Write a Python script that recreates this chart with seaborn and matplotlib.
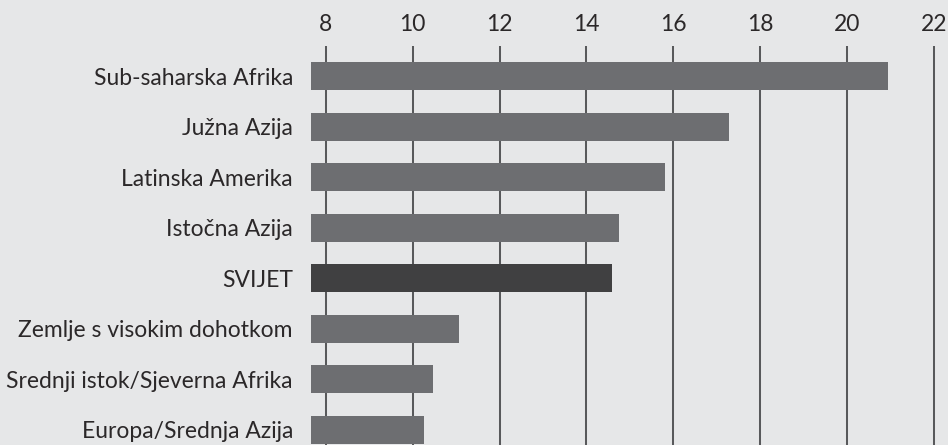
import matplotlib
matplotlib.use("Agg")
import matplotlib.pyplot as plt
import seaborn as sns
import pandas as pd

regions = ["Sub-saharska Afrika", "Južna Azija", "Latinska Amerika", "Istočna Azija",
           "SVIJET", "Zemlje s visokim dohotkom", "Srednji istok/Sjeverna Afrika",
           "Europa/Srednja Azija"]
values = [20.94, 17.28, 15.81, 14.75, 14.59, 11.07, 10.47, 10.26]
xticks = [8, 10, 12, 14, 16, 18, 20, 22]

BG = "#e6e7e8"
BAR = "#6d6e71"
WORLD = "#404041"
GRID = "#58595b"
TEXT = "#2b2829"

sns.set_theme(style="white")
plt.rcParams["font.family"] = ["Lato", "DejaVu Sans"]

df = pd.DataFrame({"region": regions, "value": values})
palette = {r: (WORLD if r == "SVIJET" else BAR) for r in regions}

fig = plt.figure(figsize=(9.48, 4.45), dpi=100, facecolor=BG)
ax = fig.add_axes([311 / 948, 0.0, 1 - 311 / 948, 1 - 46 / 445])
ax.set_facecolor(BG)

sns.barplot(data=df, x="value", y="region", hue="region", palette=palette,
            order=regions, hue_order=regions, legend=False, width=0.56,
            saturation=1, ax=ax, zorder=3, edgecolor="none", linewidth=0)

ax.set_xlim(7.66, 22.32)
ax.set_ylim(7.3, -0.6)
ax.set_xticks(xticks)
ax.set_xticklabels([str(t) for t in xticks])
ax.xaxis.tick_top()
ax.grid(axis="x", color=GRID, linewidth=1.45, zorder=0)
ax.set_axisbelow(True)
ax.tick_params(axis="x", length=0, pad=8, labelsize=16.5, labelcolor=TEXT)
ax.tick_params(axis="y", length=0, pad=13, labelsize=16.5, labelcolor=TEXT)
ax.set_xlabel("")
ax.set_ylabel("")
for s in ax.spines.values():
    s.set_visible(False)

fig.savefig("out.png", dpi=100, facecolor=BG)
